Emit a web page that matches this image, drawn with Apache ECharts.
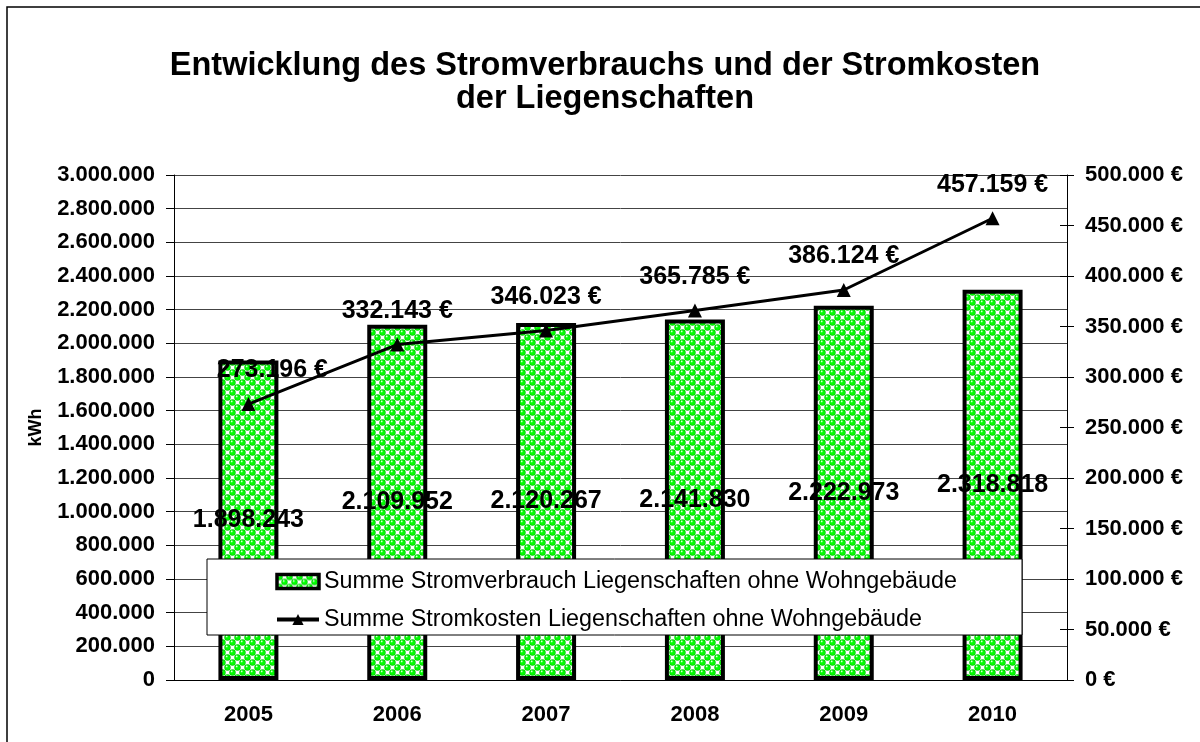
<!DOCTYPE html>
<html>
<head>
<meta charset="utf-8">
<script src="https://cdn.jsdelivr.net/npm/echarts@6/dist/echarts.min.js"></script>
<style>
  html, body { margin: 0; padding: 0; background: #fff; }
  #chart { width: 1200px; height: 742px; }
</style>
</head>
<body>
<div id="chart"></div>
<script>
var years = ['2005', '2006', '2007', '2008', '2009', '2010'];
var consumption = [1898243, 2109952, 2120267, 2141830, 2222973, 2318818];
var costs = [273196, 332143, 346023, 365785, 386124, 457159];
var kwhTicks = { min: 0, max: 3000000, step: 200000 };
var euroTicks = { min: 0, max: 500000, step: 50000 };

var FONT = 'Arial, "Liberation Sans", sans-serif';
var BAR_NAME = 'Summe Stromverbrauch Liegenschaften ohne Wohngebäude';
var LINE_NAME = 'Summe Stromkosten Liegenschaften ohne Wohngebäude';

// dotted green fill like the spreadsheet pattern
var makePattern = function() {
    var c = document.createElement('canvas');
    c.width = 10; c.height = 10;
    var g = c.getContext('2d');
    g.fillStyle = '#ffffff';
    g.fillRect(0, 0, 10, 10);
    var ball = function(x, y) {
        g.beginPath();
        g.arc(x, y, 3.2, 0, Math.PI * 2);
        g.fillStyle = '#00c800';
        g.fill();
        g.beginPath();
        g.arc(x, y, 2.5, 0, Math.PI * 2);
        g.fillStyle = '#00ff00';
        g.fill();
        g.beginPath();
        g.arc(x - 0.8, y - 1.1, 0.9, 0, Math.PI * 2);
        g.fillStyle = '#d8ffd8';
        g.fill();
    };
    var pts = [[2.5, 2.5], [7.5, 7.5], [12.5, 2.5], [-2.5, 7.5], [2.5, 12.5], [-2.5, -2.5], [7.5, -2.5], [12.5, 12.5]];
    pts.forEach(function(p) { ball(p[0], p[1]); });
    return c;
};
var pattern = makePattern();

var fmt = function(v) {
    return String(Math.round(v)).replace(/\B(?=(\d{3})+(?!\d))/g, '.');
};

var lineData = costs.map(function(v, i) {
    return i === 0 ? { value: v, label: { offset: [24, 0] } } : v;
});

var chart = echarts.init(document.getElementById('chart'));

var option = {
    animation: false,
    textStyle: { fontFamily: FONT },
    title: {
        text: 'Entwicklung des Stromverbrauchs und der Stromkosten\nder Liegenschaften',
        left: 600,
        top: 45,
        textAlign: 'center',
        textStyle: { fontSize: 32.5, fontWeight: 'bold', color: '#000', lineHeight: 33, fontFamily: FONT }
    },
    graphic: [
        {
            type: 'rect', z: 0,
            shape: { x: 7, y: 7, width: 1260, height: 800 },
            style: { fill: 'none', stroke: '#000', lineWidth: 1.5 }
        },
        {
            type: 'rect', z: 3,
            shape: { x: 207, y: 559, width: 815, height: 76 },
            style: { fill: '#fff', stroke: '#000', lineWidth: 1 }
        }
    ],
    legend: {
        orient: 'vertical',
        left: 275,
        top: 570,
        padding: 0,
        itemWidth: 42,
        itemHeight: 14,
        itemGap: 15,
        z: 4,
        textStyle: { fontSize: 23.3, color: '#000', fontFamily: FONT, lineHeight: 22 },
        data: [
            { name: BAR_NAME, icon: 'rect', itemStyle: { borderWidth: 3.5, borderColor: '#000' } },
            { name: LINE_NAME, lineStyle: { width: 4 } }
        ]
    },
    grid: { left: 174, right: 133, top: 175, bottom: 62, containLabel: false },
    xAxis: {
        type: 'category',
        data: years,
        axisLine: { lineStyle: { color: '#000', width: 1 } },
        axisTick: { length: 8, lineStyle: { color: '#000' } },
        axisLabel: { margin: 24, fontSize: 22, fontWeight: 'bold', color: '#000', fontFamily: FONT }
    },
    yAxis: [
        {
            type: 'value',
            name: 'kWh',
            nameLocation: 'middle',
            nameGap: 129,
            nameRotate: 90,
            nameTextStyle: { fontSize: 18, fontWeight: 'bold', color: '#000', fontFamily: FONT },
            min: kwhTicks.min, max: kwhTicks.max, interval: kwhTicks.step,
            axisLine: { show: true, lineStyle: { color: '#000' } },
            axisTick: { show: true, length: 8, lineStyle: { color: '#000' } },
            splitLine: { show: true, lineStyle: { color: '#444', width: 1 } },
            axisLabel: { margin: 19, fontSize: 22, fontWeight: 'bold', color: '#000', fontFamily: FONT, formatter: fmt }
        },
        {
            type: 'value',
            position: 'right',
            min: euroTicks.min, max: euroTicks.max, interval: euroTicks.step,
            axisLine: { show: true, lineStyle: { color: '#000' } },
            axisTick: { show: true, length: 7, lineStyle: { color: '#000' } },
            splitLine: { show: false },
            axisLabel: { margin: 18, fontSize: 22, fontWeight: 'bold', color: '#000', fontFamily: FONT,
                formatter: function(v) { return fmt(v) + ' €'; } }
        },
        {
            type: 'value',
            position: 'right',
            min: euroTicks.min, max: euroTicks.max, interval: euroTicks.step,
            axisLine: { show: false },
            axisTick: { show: true, inside: true, length: 7, lineStyle: { color: '#000' } },
            splitLine: { show: false },
            axisLabel: { show: false }
        }
    ],
    series: [
        {
            name: BAR_NAME,
            type: 'bar',
            yAxisIndex: 0,
            barWidth: 60,
            data: consumption,
            itemStyle: {
                color: { image: pattern, repeat: 'repeat' },
                borderColor: '#000',
                borderWidth: 4
            },
            label: {
                show: true,
                position: 'inside',
                fontSize: 25,
                fontWeight: 'bold',
                color: '#000',
                fontFamily: FONT,
                formatter: function(p) { return fmt(p.value); }
            }
        },
        {
            name: LINE_NAME,
            type: 'line',
            yAxisIndex: 1,
            data: lineData,
            symbol: 'triangle',
            symbolSize: 14,
            z: 3,
            itemStyle: { color: '#000' },
            lineStyle: { color: '#000', width: 3 },
            label: {
                show: true,
                position: 'top',
                distance: 14,
                fontSize: 25,
                fontWeight: 'bold',
                color: '#000',
                fontFamily: FONT,
                formatter: function(p) { return fmt(p.value) + ' €'; }
            }
        }
    ]
};

chart.setOption(option);
</script>
</body>
</html>
